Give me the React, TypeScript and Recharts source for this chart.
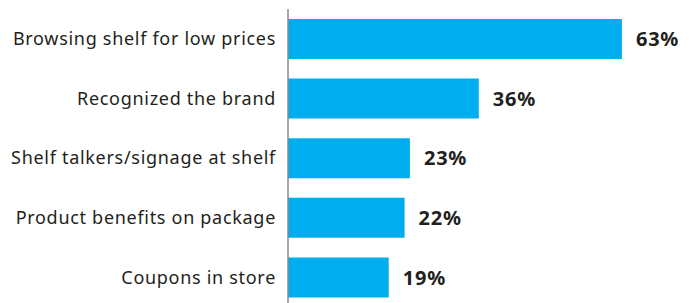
import React from "react";
import { BarChart, Bar, XAxis, YAxis, LabelList } from "recharts";

const categories = [
  "Browsing shelf for low prices",
  "Recognized the brand",
  "Shelf talkers/signage at shelf",
  "Product benefits on package",
  "Coupons in store",
];
const shares = [63, 36, 23, 22, 19];

const data = categories.map((name, i) => ({ name, value: shares[i] }));

export default function App() {
  return (
    <div
      style={{
        position: "absolute",
        left: 0,
        top: 0,
        width: 694,
        height: 303,
        overflow: "hidden",
        background: "#fff",
        fontFamily: "'Noto Sans', sans-serif",
      }}
    >
      <BarChart
        width={694}
        height={307}
        data={data}
        layout="vertical"
        barSize={40}
        margin={{ top: 9, right: 35, left: 0, bottom: 0 }}
      >
        <XAxis type="number" domain={[0, 70]} hide />
        <YAxis
          type="category"
          dataKey="name"
          width={288}
          tickLine={false}
          tickSize={0}
          tickMargin={12}
          axisLine={{ stroke: "#8a8a8a", strokeWidth: 1.5 }}
          tick={{ fill: "#231f20", fontSize: 18, letterSpacing: 0.7 }}
        />
        <Bar dataKey="value" fill="#00aeef" isAnimationActive={false}>
          <LabelList
            dataKey="value"
            position="right"
            offset={14}
            formatter={(v: number) => `${v}%`}
            style={{ fill: "#231f20", fontSize: 20, fontWeight: 700, letterSpacing: 0.8 }}
          />
        </Bar>
      </BarChart>
    </div>
  );
}
